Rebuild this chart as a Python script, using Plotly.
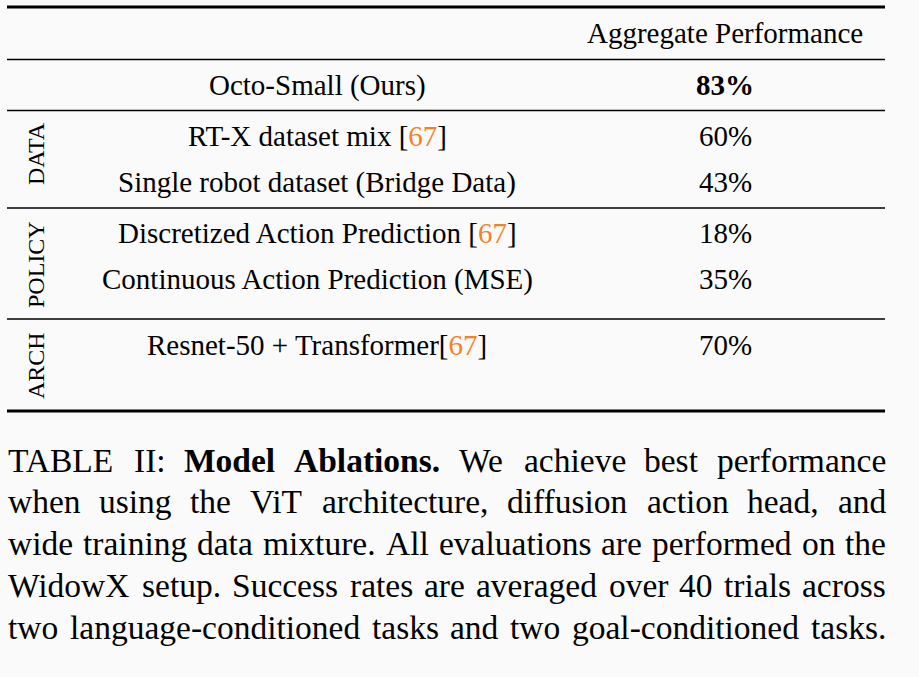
import plotly.graph_objects as go

# table content
header = "Aggregate Performance"
methods = [
    "Octo-Small (Ours)",
    "RT-X dataset mix [67]",
    "Single robot dataset (Bridge Data)",
    "Discretized Action Prediction [67]",
    "Continuous Action Prediction (MSE)",
    "Resnet-50 + Transformer[67]",
]
scores = [83, 60, 43, 18, 35, 70]
best = 83
groups = ["DATA", "POLICY", "ARCH"]

caption_lines = [
    "TABLE II: Model Ablations. We achieve best performance",
    "when using the ViT architecture, diffusion action head, and",
    "wide training data mixture. All evaluations are performed on the",
    "WidowX setup. Success rates are averaged over 40 trials across",
    "two language-conditioned tasks and two goal-conditioned tasks.",
]
bold_words = ["Model", "Ablations."]

W, H = 919, 677
FONT = "Liberation Serif, Times New Roman, serif"
ORANGE = "#F5821F"
BG = "#FAFAFA"

# layout (pixel coordinates)
left, right = 7, 885
col1_x, col2_x = 317, 725
header_y = 33
row_y = [85, 136, 182, 233, 279, 345]
rules = [(7, 2.8), (59.5, 1.6), (110.5, 1.6), (208, 1.6), (319, 1.6), (411, 2.8)]
group_pos = [(36, 154), (36, 265), (36, 366)]
cap_y0, cap_dy, cap_size = 460, 41.8, 33.5

# Times widths (1/1000 em) for justifying the caption
_tr = dict(zip("ABCDEFGHIJKLMNOPQRSTUVWXYZ",
               [722, 667, 667, 722, 611, 556, 722, 722, 333, 389, 722, 611, 889,
                722, 722, 556, 722, 667, 556, 611, 722, 722, 944, 722, 722, 611]))
_tr.update(zip("abcdefghijklmnopqrstuvwxyz",
               [444, 500, 444, 500, 444, 333, 500, 500, 278, 278, 500, 278, 778,
                500, 500, 500, 500, 333, 389, 278, 500, 500, 722, 500, 500, 444]))
_tr.update({c: 500 for c in "0123456789"})
_tr.update({" ": 250, ".": 250, ",": 250, ":": 278, "-": 333, "(": 333, ")": 333})
_tb = dict(_tr)
_tb.update({"M": 944, "d": 556, "b": 556, "a": 500, "t": 333, "n": 556, "o": 500})


def width(word, bold=False):
    tab = _tb if bold else _tr
    return sum(tab.get(c, 500) for c in word) / 1000 * cap_size


def cite(txt):
    return txt.replace("[67]", "[<span style='color:%s'>67</span>]" % ORANGE)


fig = go.Figure()

shapes = [dict(type="line", x0=left, x1=right, y0=y, y1=y, xref="x", yref="y",
               line=dict(color="black", width=w)) for y, w in rules]

ann = [dict(x=col2_x, y=header_y, text=header, font=dict(size=29))]
for m, s, y in zip(methods, scores, row_y):
    ann.append(dict(x=col1_x, y=y, text=cite(m), font=dict(size=29)))
    val = "%d%%" % s
    if s == best:
        val = "<b>%s</b>" % val
    ann.append(dict(x=col2_x, y=y, text=val, font=dict(size=29)))
for g, (gx, gy) in zip(groups, group_pos):
    ann.append(dict(x=gx, y=gy, text=g, textangle=-90, font=dict(size=24)))

# caption, justified word by word
for i, line in enumerate(caption_lines):
    words = line.split(" ")
    isb = [i == 0 and w in bold_words for w in words]
    ws = [width(w, b) for w, b in zip(words, isb)]
    gap = (right - left - sum(ws)) / (len(words) - 1)
    x = left
    for w, b, wd in zip(words, isb, ws):
        ann.append(dict(x=x, y=cap_y0 + i * cap_dy, text="<b>%s</b>" % w if b else w,
                        xanchor="left", font=dict(size=cap_size)))
        x += wd + gap

for a in ann:
    a.update(xref="x", yref="y", showarrow=False, borderpad=0)
    a.setdefault("xanchor", "center")
    a["yanchor"] = "middle"
    a["font"].update(family=FONT, color="black")

fig.update_layout(
    width=W, height=H,
    margin=dict(l=0, r=0, t=0, b=0),
    paper_bgcolor=BG, plot_bgcolor=BG,
    xaxis=dict(range=[0, W], visible=False, fixedrange=True),
    yaxis=dict(range=[H, 0], visible=False, fixedrange=True),
    shapes=shapes, annotations=ann,
    showlegend=False,
)

# drop the page margin so the figure fills the window
fig.write_html("out.html", config={"displayModeBar": False}, post_script=(
    "document.body.style.margin='0';"
    "document.body.style.background='%s';" % BG))
